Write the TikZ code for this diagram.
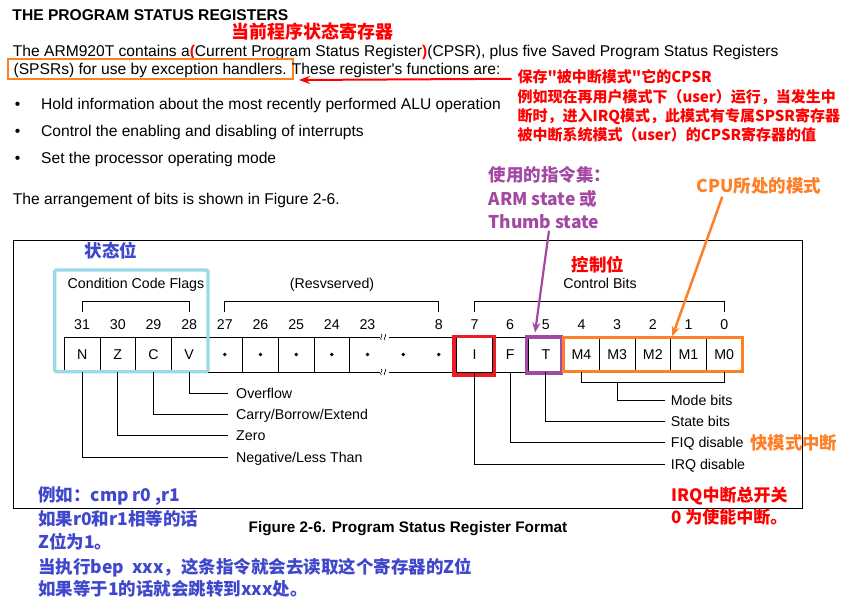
\documentclass[tikz,border=0pt]{standalone}
\usepackage{fontspec}
\setmainfont{Liberation Sans}
\newfontfamily\plainsans{Liberation Sans}
\newfontfamily\cjk{Noto Sans CJK SC}
\usetikzlibrary{arrows.meta,calc}
\definecolor{cred}{HTML}{FF0000}
\definecolor{boxred}{HTML}{ED1C24}
\definecolor{corange}{HTML}{FF7F27}
\definecolor{cpurple}{HTML}{A349A4}
\definecolor{cblue}{HTML}{3F48CC}
\definecolor{ccyan}{HTML}{99D9EA}
\tikzset{
  txt/.style={inner sep=0pt, anchor=base west, font=\fontsize{15.6}{18}\selectfont},
  lab/.style={inner sep=0pt, font=\fontsize{14.2}{16}\selectfont},
  leadlab/.style={lab, anchor=west, text height=10.2pt, text depth=0pt},
  cjkt/.style={inner sep=0pt, anchor=base west, font=\cjk\bfseries\fontsize{#1}{#1}\selectfont},
  cell/.style={draw, line width=0.8pt, minimum width=35.67pt, minimum height=35pt, inner sep=0pt,
    text height=10.2pt, text depth=0pt, font=\fontsize{14.2}{16}\selectfont},
  lead/.style={line width=0.8pt},
  hl/.style={line width=3.3pt},
}
\begin{document}
\begin{tikzpicture}[x=1pt,y=-1pt]
\useasboundingbox (0,0) rectangle (846,609);
\fill[white] (0,0) rectangle (846,609);

% ---- top text ----
\node[txt, font=\bfseries\fontsize{15.6}{18}\selectfont] (title) at (12.3,21) {THE PROGRAM STATUS REGISTERS};
\node[cjkt=18, text=cred] (cpsrcn) at (231,38.8) {当前程序状态寄存器};
\node[txt] (l1) at (12.7,56.7) {The ARM920T contains a{\color{cred}\bfseries(}Current Program Status Register{\color{cred}\bfseries)}(CPSR), plus five Saved Program Status Registers};
\node[txt, draw=corange, line width=1.8pt, inner xsep=6pt, inner ysep=0pt, text height=15.7pt, text depth=4pt] (spsr) at (6.7,75) {(SPSRs) for use by exception handlers.};
\node[txt, font=\plainsans\fontsize{15.6}{18}\selectfont] (l2b) at (291.7,75) {These register's functions are:};

\node[cjkt=15, text=cred] (ann1) at (517.3,82.5) {保存"被中断模式"它的CPSR};
\node[cjkt=15, text=cred] (ann2) at (517.3,102.5) {例如现在再用户模式下（user）运行，当发生中};
\node[cjkt=15, text=cred] (ann3) at (517.3,121.5) {断时，进入IRQ模式，此模式有专属SPSR寄存器};
\node[cjkt=15, text=cred] (ann4) at (517.3,141) {被中断系统模式（user）的CPSR寄存器的值};
\coordinate (ra1) at (511.7,78.8);
\coordinate (ra2) at (299,80);
\draw[cred, line width=2pt, -{Stealth[length=11pt,width=8pt]}] (ra1) -- (ra2);

\node[txt] (bu1) at (14.7,110) {•};
\node[txt] (t1) at (41,110) {Hold information about the most recently performed ALU operation};
\node[txt] (bu2) at (14.7,136.7) {•};
\node[txt] (t2) at (41,136.7) {Control the enabling and disabling of interrupts};
\node[txt] (bu3) at (14.7,163.3) {•};
\node[txt] (t3) at (41,163.3) {Set the processor operating mode};
\node[txt] (t4) at (12.7,205) {The arrangement of bits is shown in Figure 2-6.};

\node[cjkt=17.5, text=cpurple] (p1) at (488.3,181.5) {使用的指令集：};
\node[cjkt=17.5, text=cpurple] (p2) at (488.3,205.8) {ARM state 或};
\node[cjkt=17.5, text=cpurple] (p3) at (488.3,228.2) {Thumb state};
\node[cjkt=17.5, text=corange] (cpu) at (696.7,192.5) {CPU所处的模式};

% ---- frame ----
\draw[line width=0.9pt] (13,240) rectangle (802,508);

\node[cjkt=17.5, text=cblue] (stat) at (84.3,257.7) {状态位};
\node[cjkt=17.5, text=cred] (ctrl) at (571.7,271.7) {控制位};

\node[lab, anchor=base] (ccf) at (136,288.4) {Condition Code Flags};
\node[lab, anchor=base] (resv) at (332,288.4) {(Resvserved)};
\node[lab, anchor=base] (cbits) at (600,288.4) {Control Bits};

\draw[lead] (82.1,311.7) |- (189.1,301.7) -- (189.1,311.7);
\draw[lead] (224.8,311.7) |- (438.8,301.7) -- (438.8,311.7);
\draw[lead] (474.5,311.7) |- (724.2,301.7) -- (724.2,311.7);

% bit numbers
\foreach \i/\n in {0/31,1/30,2/29,3/28,4/27,5/26,6/25,7/24,8/23,10/8,11/7,12/6,13/5,14/4,15/3,16/2,17/1,18/0}
  \node[lab, anchor=base] (b\i) at ({64.3+(\i+0.5)*35.67},330) {\n};

% cells
\foreach \i/\t in {0/N,1/Z,2/C,3/V,4/,5/,6/,7/,11/I,12/F,13/T,14/M4,15/M3,16/M2,17/M1,18/M0}
  \node[cell] (c\i) at ({64.3+(\i+0.5)*35.67},354.5) {\t};
\node[cell, minimum width=107.01pt] (cw) at ({64.3+9.5*35.67},354.5) {};
\foreach \i in {4,...,10}
  \fill ({64.3+(\i+0.5)*35.67},354.5) circle (1.9);

% break marks
\foreach \yy in {337,372}{
  \fill[white] (379.5,\yy-2.5) rectangle (388.5,\yy+2.5);
  \foreach \xx in {381.3,385}
    \draw[line width=0.6pt] (\xx,\yy-3) .. controls (\xx+2.6,\yy-1.5) and (\xx-2.6,\yy+1.5) .. (\xx,\yy+3);
}

% highlight boxes
\draw[hl, ccyan, rounded corners=1.5pt] (54.7,270) rectangle (208,371.7);
\draw[hl, boxred] (454,336.7) rectangle (494.3,375);
\draw[hl, cpurple] (526.7,337) rectangle (561.7,373);
\draw[hl, corange] (563.3,337.7) rectangle (742.3,371.7);

% arrows to cells
\coordinate (pa) at (549,230.7);
\draw[cpurple, line width=2.2pt, -{Stealth[length=10pt,width=8pt]}] (pa) -- ($(c13.north)+(-10.8,-4)$);
\coordinate (oa) at (722.3,196.7);
\draw[corange, line width=2.5pt, -{Stealth[length=10pt,width=8pt]}] (oa) -- ($(c17.north west)+(2,-0.3)$);

% leader labels left
\node[leadlab] (lblV) at (236,393.3) {Overflow};
\node[leadlab] (lblC) at (236,414) {Carry/Borrow/Extend};
\node[leadlab] (lblZ) at (236,435.7) {Zero};
\node[leadlab] (lblN) at (236,457.3) {Negative/Less Than};
\draw[lead] (c3.south) |- ([xshift=-7.7pt]lblV.west);
\draw[lead] (c2.south) |- ([xshift=-7.7pt]lblC.west);
\draw[lead] (c1.south) |- ([xshift=-7.7pt]lblZ.west);
\draw[lead] (c0.south) |- ([xshift=-7.7pt]lblN.west);

% leader labels right
\node[leadlab] (lblMode) at (670.7,400) {Mode bits};
\node[leadlab] (lblT) at (670.7,421.7) {State bits};
\node[leadlab] (lblF) at (670.7,442.7) {FIQ disable};
\node[leadlab] (lblI) at (670.7,464) {IRQ disable};
\coordinate (mb) at (617.2,382.7);
\draw[lead] (c14.south) |- (mb) -| (c18.south);
\draw[lead] (mb) |- ([xshift=-5.7pt]lblMode.west);
\draw[lead] (c13.south) |- ([xshift=-5.7pt]lblT.west);
\draw[lead] (c12.south) |- ([xshift=-5.7pt]lblF.west);
\draw[lead] (c11.south) |- ([xshift=-5.7pt]lblI.west);
\node[cjkt=17.4, text=corange] (fiqcn) at (750,449.6) {快模式中断};

% bottom texts
\node[cjkt=17.5, text=cblue] (e1) at (38,501.6) {例如：cmp r0 ,r1};
\node[cjkt=17.5, text=cblue] (e2) at (38,525) {如果r0和r1相等的话};
\node[cjkt=17.5, text=cblue] (e3) at (38,548.5) {Z位为1。};
\node[cjkt=17.5, text=cblue] (e4) at (38,573) {当执行bep~~xxx，这条指令就会去读取这个寄存器的Z位};
\node[cjkt=17.5, text=cblue] (e5) at (38,595) {如果等于1的话就会跳转到xxx处。};
\node[txt, anchor=base, font=\bfseries\fontsize{15.3}{18}\selectfont] (cap) at (408,532.6) {Figure 2-6. Program Status Register Format};
\node[cjkt=17, text=cred] (irq1) at (671,501.5) {IRQ中断总开关};
\node[cjkt=17, text=cred] (irq2) at (671,523) {0 为使能中断。};
\end{tikzpicture}
\end{document}
